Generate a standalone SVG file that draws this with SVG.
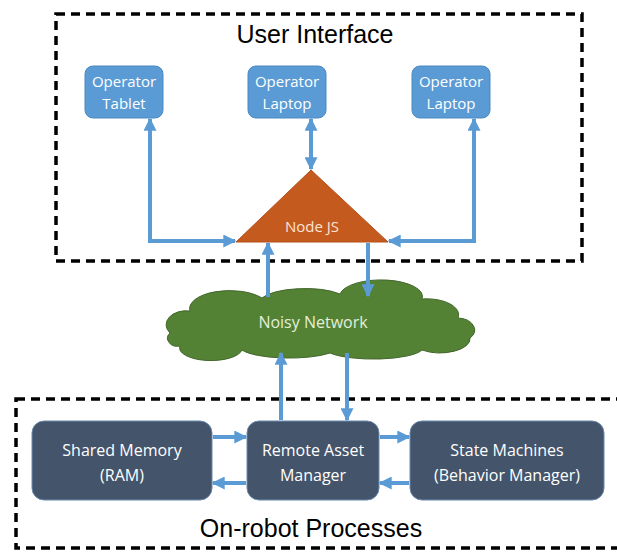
<svg xmlns="http://www.w3.org/2000/svg" width="617" height="552" viewBox="0 0 617 552">
<style>
.dash{fill:none;stroke:#000;stroke-width:3.5;stroke-dasharray:9 6}
.title{font-family:"Liberation Sans",Arial,sans-serif;font-size:25px;fill:#000;text-anchor:middle}
.lbl{font-family:"Open Sans","Noto Sans",sans-serif;fill:#fff;text-anchor:middle}
.top{fill:#5B9BD5;stroke:#4A89C2;stroke-width:1}
.bot{fill:#44546A;stroke:#6A8AB0;stroke-width:1}
.conn{fill:none;stroke:#5B9BD5;stroke-width:4}
</style>
<defs>
<marker id="ah" viewBox="0 0 10 10" refX="9" refY="5" markerWidth="13" markerHeight="13" markerUnits="userSpaceOnUse" orient="auto-start-reverse">
<path d="M0,0 L10,5 L0,10 Z" fill="#5B9BD5"/>
</marker>
</defs>
<rect class="dash" x="56" y="14" width="526" height="247"/>
<rect class="dash" x="16" y="399" width="610" height="149"/>
<text class="title" x="315" y="43">User Interface</text>
<text class="title" x="311" y="537">On-robot Processes</text>

<g id="tablet"><rect class="top" x="85" y="66" width="78" height="52" rx="8"/><text class="lbl" font-size="15" x="124" y="87">Operator</text><text class="lbl" font-size="15" x="124" y="109">Tablet</text></g>
<g id="laptop1"><rect class="top" x="248" y="66" width="78" height="52" rx="8"/><text class="lbl" font-size="15" x="287" y="87">Operator</text><text class="lbl" font-size="15" x="287" y="109">Laptop</text></g>
<g id="laptop2"><rect class="top" x="412" y="66" width="78" height="52" rx="8"/><text class="lbl" font-size="15" x="451" y="87">Operator</text><text class="lbl" font-size="15" x="451" y="109">Laptop</text></g>
<g id="nodejs"><path d="M311,170 L388,242 L236,242 Z" fill="#C55A1F" stroke="#B5501A" stroke-width="1"/><text class="lbl" font-size="15" x="312" y="232" style="fill:#FBE5D6">Node JS</text></g>
<g id="cloud"><path d="M170,333 A20,14 0 0 1 190,311 A40,18 0 0 1 262,298 A45,14 0 0 1 340,294 A40,16 0 0 1 422,299 A32,16 0 0 1 458,318 A18,12 0 0 1 470,338 A30,14 0 0 1 422,350 A50,12 0 0 1 330,353 A50,12 0 0 1 242,350 A30,12 0 0 1 180,346 A10,8 0 0 1 170,333 Z" fill="#548235" stroke="#41662A" stroke-width="1"/><text class="lbl" font-size="16" x="313" y="328" style="fill:#E2EFDA">Noisy Network</text></g>
<g id="shared"><rect class="bot" x="32" y="421" width="180" height="79" rx="12"/><text class="lbl" font-size="16" x="122" y="456">Shared Memory</text><text class="lbl" font-size="16" x="122" y="481">(RAM)</text></g>
<g id="ram"><rect class="bot" x="247" y="421" width="132" height="79" rx="12"/><text class="lbl" font-size="16" x="313" y="456">Remote Asset</text><text class="lbl" font-size="16" x="313" y="481">Manager</text></g>
<g id="sm"><rect class="bot" x="410" y="421" width="194" height="79" rx="12"/><text class="lbl" font-size="16" x="507" y="456">State Machines</text><text class="lbl" font-size="16" x="507" y="481">(Behavior Manager)</text></g>

<g id="connectors">
<path class="conn" d="M150,119 L150,241 L235,241" marker-start="url(#ah)" marker-end="url(#ah)"/>
<path class="conn" d="M311,119 L311,169" marker-start="url(#ah)" marker-end="url(#ah)"/>
<path class="conn" d="M474,119 L474,241 L389,241" marker-start="url(#ah)" marker-end="url(#ah)"/>
<path class="conn" d="M268,297 L268,243" marker-end="url(#ah)"/>
<path class="conn" d="M368,243 L368,296" marker-end="url(#ah)"/>
<path class="conn" d="M281,420 L281,353" marker-end="url(#ah)"/>
<path class="conn" d="M347,353 L347,420" marker-end="url(#ah)"/>
<path class="conn" d="M213,437 L246,437" marker-end="url(#ah)"/>
<path class="conn" d="M246,483 L213,483" marker-end="url(#ah)"/>
<path class="conn" d="M380,437 L409,437" marker-end="url(#ah)"/>
<path class="conn" d="M409,483 L380,483" marker-end="url(#ah)"/>
</g>
</svg>
